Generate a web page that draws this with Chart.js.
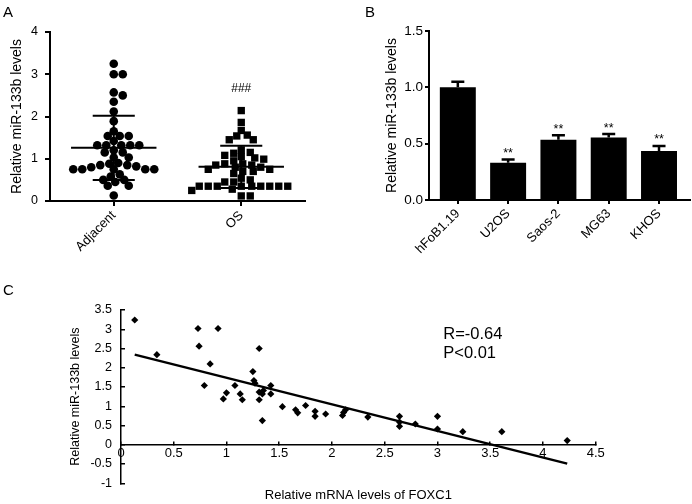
<!DOCTYPE html>
<html><head><meta charset="utf-8">
<script src="https://cdn.jsdelivr.net/npm/chart.js@4/dist/chart.umd.min.js"></script>
<style>
html,body{margin:0;padding:0;background:#fff;}
#wrap{position:relative;width:692px;height:504px;overflow:hidden;background:#fff;}
canvas{position:absolute;}
</style></head><body>
<div id="wrap">
<canvas id="cA" width="330" height="262" style="left:0;top:0;width:330px;height:262px"></canvas>
<canvas id="cB" width="362" height="262" style="left:330px;top:0;width:362px;height:262px"></canvas>
<canvas id="cC" width="692" height="242" style="left:0;top:262px;width:692px;height:242px"></canvas>
</div>
<script>
const FONT = '"Liberation Sans", Arial, sans-serif';

// ---------- Panel A data ----------
const groupsA = ['Adjacent', 'OS'];
const adjacentValues = [3.25, 3.0, 3.0, 2.57, 2.5, 2.35, 2.12, 1.89, 1.65,
  1.54, 1.54, 1.54, 1.42, 1.32, 1.32, 1.32, 1.32, 1.32, 1.2, 1.15, 1.15, 1.03, 1.03,
  0.9, 0.85, 0.82, 0.75, 0.75, 0.75, 0.75, 0.75, 0.8, 0.85, 0.88,
  0.58, 0.63, 0.5, 0.45, 0.5, 0.36, 0.36, 0.13];
const osValues = [2.14, 1.86, 1.67, 1.56, 1.54, 1.45, 1.45, 1.21, 1.15, 1.13, 1.08, 1.05, 1.02, 0.99, 0.95,
  0.88, 0.85, 0.8, 0.75, 0.7, 0.65, 0.7, 0.75, 0.8, 0.85, 0.88,
  0.54, 0.5, 0.45, 0.45,
  0.35, 0.35, 0.35, 0.35, 0.35, 0.35, 0.35, 0.35, 0.35,
  0.28, 0.25, 0.12, 0.12];
const groupMeans = [1.26, 0.81];
const groupSD = [0.76, 0.50];
const sigA = ['', '###'];

// ---------- Panel B data ----------
const cellLines = ['hFoB1.19', 'U2OS', 'Saos-2', 'MG63', 'KHOS'];
const cellValues = [1.00, 0.33, 0.535, 0.555, 0.435];
const cellErrors = [0.05, 0.03, 0.04, 0.03, 0.045];
const cellSig = ['', '**', '**', '**', '**'];

// ---------- Panel C data ----------
const foxc1 = [0.13, 0.34, 0.73, 0.74, 0.92, 0.845, 0.79, 0.97, 1.0, 1.08,
  1.13, 1.15, 1.25, 1.26, 1.27, 1.31, 1.31, 1.31, 1.34, 1.35,
  1.34, 1.42, 1.42, 1.53, 1.655, 1.675, 1.75, 1.84, 1.84, 1.94,
  2.1, 2.11, 2.13, 2.34, 2.64, 2.64, 2.64, 2.79, 3.0, 3.0,
  3.24, 3.61, 4.23];
const mir133b = [3.24, 2.34, 3.02, 2.56, 3.02, 2.1, 1.54, 1.19, 1.35, 1.54,
  1.32, 1.17, 1.9, 1.67, 1.6, 2.5, 1.37, 1.17, 1.32, 1.41,
  0.63, 1.54, 1.32, 0.99, 0.91, 0.83, 1.02, 0.87, 0.74, 0.8,
  0.76, 0.84, 0.91, 0.72, 0.74, 0.59, 0.48, 0.54, 0.74, 0.41,
  0.34, 0.34, 0.11];
const regIntercept = 2.43;
const regSlope = -0.69;
const regXRange = [0.13, 4.23];
const statLines = ['R=-0.64', 'P<0.01'];

Chart.defaults.font.family = FONT;
Chart.defaults.color = '#000';
Chart.defaults.animation = false;

// deterministic beeswarm layout (collision avoidance, vertical overlap partly allowed)
function swarm(values, center, diam, step, vf, pxX, pxY) {
  const order = values.map((v, i) => i).sort((a, b) => values[b] - values[a]);
  const placed = [];
  const out = new Array(values.length);
  for (const i of order) {
    const yy = values[i] * pxY;
    let best = null;
    for (let k = 0; k < 300 && best === null; k++) {
      const offs = k === 0 ? [0] : [k * step, -k * step];
      for (const o of offs) {
        if (placed.every(p => (p.x - o) ** 2 + ((p.y - yy) * vf) ** 2 >= diam * diam - 0.01)) { best = o; break; }
      }
    }
    placed.push({ x: best, y: yy });
    out[i] = { x: center + best / pxX, y: values[i] };
  }
  return out;
}

const letterPlugin = {
  id: 'panelLetter',
  afterDraw(chart, args, opts) {
    if (!opts || !opts.text) return;
    const ctx = chart.ctx;
    ctx.save();
    ctx.fillStyle = '#000';
    ctx.font = '15px ' + FONT;
    ctx.textAlign = 'left';
    ctx.textBaseline = 'alphabetic';
    ctx.fillText(opts.text, opts.x, opts.y);
    ctx.restore();
  }
};

function axisCommon(tl, lw) {
  return {
    grid: { display: true, drawOnChartArea: false, drawTicks: true, tickLength: tl, color: '#000', lineWidth: lw, offset: false },
    border: { display: true, color: '#000', width: lw }
  };
}

// ---------- Panel A ----------
const PXA = 127.5, PYA = 42.25;
new Chart(document.getElementById('cA'), {
  type: 'scatter',
  data: {
    datasets: [
      { data: swarm(adjacentValues, 0, 8.6, 1.5, 1.35, PXA, PYA), pointStyle: 'circle', pointRadius: 4.3, pointHoverRadius: 4.3, backgroundColor: '#000', borderColor: '#000', borderWidth: 0 },
      { data: swarm(osValues, 1, 8.6, 1.5, 1.35, PXA, PYA), pointStyle: 'rect', pointRadius: 5.2, pointHoverRadius: 5.2, backgroundColor: '#000', borderColor: '#000', borderWidth: 0 }
    ]
  },
  options: {
    responsive: false, devicePixelRatio: 1, animation: false,
    layout: { padding: { top: 32, right: 25, left: 0, bottom: 0 } },
    plugins: { legend: { display: false }, tooltip: { enabled: false }, panelLetter: { text: 'A', x: 3, y: 17 } },
    scales: {
      x: Object.assign({
        type: 'linear', min: -0.5, max: 1.5, offset: false,
        afterBuildTicks: s => { s.ticks = groupsA.map((g, i) => ({ value: i })); },
        ticks: { callback: v => groupsA[v], autoSkip: false, minRotation: 45, maxRotation: 45, font: { size: 13 }, color: '#000', padding: 2 },
        afterFit: s => { s.height = 61; }
      }, axisCommon(5, 2)),
      y: Object.assign({
        min: 0, max: 4,
        ticks: { stepSize: 1, font: { size: 12.5 }, color: '#000', padding: 7 },
        title: { display: true, text: 'Relative miR-133b levels', font: { size: 14 }, color: '#000', padding: { top: 9, bottom: 0 } },
        afterFit: s => { s.width = 50; }
      }, axisCommon(5, 2))
    }
  },
  plugins: [letterPlugin, {
    id: 'meanSd',
    afterDatasetsDraw(chart) {
      const { ctx, scales: { x, y } } = chart;
      ctx.save();
      ctx.strokeStyle = '#000'; ctx.lineWidth = 2; ctx.lineCap = 'butt';
      const seg = (x0, y0, x1, y1) => {
        ctx.beginPath();
        ctx.moveTo(x.getPixelForValue(x0), y.getPixelForValue(y0));
        ctx.lineTo(x.getPixelForValue(x1), y.getPixelForValue(y1));
        ctx.stroke();
      };
      groupMeans.forEach((m, i) => {
        const sd = groupSD[i];
        seg(i - 0.335, m, i + 0.335, m);
        seg(i, m - sd, i, m + sd);
        seg(i - 0.165, m + sd, i + 0.165, m + sd);
        seg(i - 0.165, m - sd, i + 0.165, m - sd);
      });
      ctx.fillStyle = '#000'; ctx.font = '12px ' + FONT; ctx.textAlign = 'center'; ctx.textBaseline = 'middle';
      const groupVals = [adjacentValues, osValues];
      sigA.forEach((s, i) => {
        if (s) ctx.fillText(s, x.getPixelForValue(i), y.getPixelForValue(Math.max(...groupVals[i])) - 22);
      });
      ctx.restore();
    }
  }]
});

// ---------- Panel B ----------
new Chart(document.getElementById('cB'), {
  type: 'bar',
  data: {
    datasets: [{
      data: cellLines.map((c, i) => ({ x: i, y: cellValues[i] })),
      backgroundColor: '#000', borderWidth: 0, barPercentage: 0.715, categoryPercentage: 1
    }]
  },
  options: {
    responsive: false, devicePixelRatio: 1, animation: false,
    layout: { padding: { top: 31, right: 2, left: 0, bottom: 0 } },
    plugins: { legend: { display: false }, tooltip: { enabled: false }, panelLetter: { text: 'B', x: 35, y: 17 } },
    scales: {
      x: Object.assign({
        type: 'linear', min: -0.573, max: 4.616, offset: false,
        afterBuildTicks: s => { s.ticks = cellLines.map((c, i) => ({ value: i })); },
        ticks: { callback: v => cellLines[v], autoSkip: false, minRotation: 45, maxRotation: 45, font: { size: 13 }, color: '#000', padding: 2 },
        afterFit: s => { s.height = 62; }
      }, axisCommon(4, 2)),
      y: Object.assign({
        min: 0, max: 1.5,
        ticks: { stepSize: 0.5, callback: v => Number(v).toFixed(1), font: { size: 13.5 }, color: '#000', padding: 2 },
        title: { display: true, text: 'Relative miR-133b levels', font: { size: 14 }, color: '#000', padding: { top: 53.6, bottom: 0 } },
        afterFit: s => { s.width = 99; }
      }, axisCommon(4, 2))
    }
  },
  plugins: [letterPlugin, {
    id: 'errBars',
    afterDatasetsDraw(chart) {
      const { ctx, scales: { x, y } } = chart;
      ctx.save();
      ctx.strokeStyle = '#000'; ctx.fillStyle = '#000'; ctx.lineWidth = 2.5;
      cellValues.forEach((v, i) => {
        const px = x.getPixelForValue(i);
        const top = y.getPixelForValue(v + cellErrors[i]);
        const base = y.getPixelForValue(v);
        ctx.beginPath();
        ctx.moveTo(px, base); ctx.lineTo(px, top);
        ctx.moveTo(px - 6.5, top); ctx.lineTo(px + 6.5, top);
        ctx.stroke();
        if (cellSig[i]) {
          ctx.font = '12.5px ' + FONT; ctx.textAlign = 'center'; ctx.textBaseline = 'alphabetic';
          ctx.fillText(cellSig[i], px, top - 2.5);
        }
      });
      ctx.restore();
    }
  }]
});

// ---------- Panel C ----------
new Chart(document.getElementById('cC'), {
  type: 'scatter',
  data: {
    datasets: [
      { type: 'line', data: regXRange.map(xv => ({ x: xv, y: regIntercept + regSlope * xv })), borderColor: '#000', borderWidth: 2.5, pointRadius: 0, fill: false, tension: 0 },
      { data: foxc1.map((xv, i) => ({ x: xv, y: mir133b[i] })), pointStyle: 'rectRot', pointRadius: 3.6, pointHoverRadius: 3.6, backgroundColor: '#000', borderColor: '#000', borderWidth: 0 }
    ]
  },
  options: {
    responsive: false, devicePixelRatio: 1, animation: false,
    layout: { padding: { top: 48, right: 96.3, left: 0, bottom: 20.7 } },
    plugins: { legend: { display: false }, tooltip: { enabled: false }, panelLetter: { text: 'C', x: 3, y: 33 } },
    scales: {
      x: Object.assign({
        type: 'linear', position: { y: 0 }, min: 0, max: 4.5,
        ticks: { stepSize: 0.5, callback: v => String(v), font: { size: 13 }, color: '#000', padding: 5 },
        title: { display: true, text: 'Relative mRNA levels of FOXC1', font: { size: 13 }, color: '#000', padding: { top: 0, bottom: 0 } },
        afterFit: s => { s.height = 58.5; }
      }, axisCommon(-4, 1.5)),
      y: Object.assign({
        min: -1, max: 3.5,
        ticks: { stepSize: 0.5, callback: v => String(v), font: { size: 12.5 }, color: '#000', padding: 13 },
        title: { display: true, text: 'Relative miR-133b levels', font: { size: 12.5 }, color: '#000', padding: { top: 68.5, bottom: 0 } },
        afterFit: s => { s.width = 121; }
      }, axisCommon(-4, 1.5))
    }
  },
  plugins: [letterPlugin, {
    id: 'stats',
    afterDraw(chart) {
      const { ctx, scales: { x, y } } = chart;
      ctx.save();
      ctx.fillStyle = '#000'; ctx.font = '16.5px ' + FONT; ctx.textAlign = 'left'; ctx.textBaseline = 'alphabetic';
      statLines.forEach((t, i) => ctx.fillText(t, x.getPixelForValue(3.055), y.getPixelForValue(2.75) + i * 18.7));
      ctx.restore();
    }
  }]
});
</script>
</body></html>
